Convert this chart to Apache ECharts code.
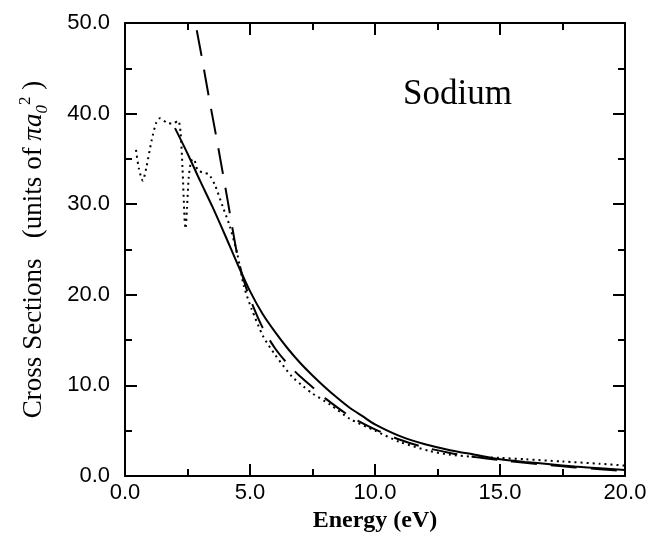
<!DOCTYPE html>
<html>
<head>
<meta charset="utf-8">
<title>Sodium cross sections</title>
<script src="https://cdn.jsdelivr.net/npm/echarts@6/dist/echarts.min.js"></script>
<style>
  html, body { margin: 0; padding: 0; background: #fff; }
  #chart { width: 652px; height: 540px; }
</style>
</head>
<body>
<div id="chart"></div>
<script>
// solid curve
const solidE = [2.0, 2.5, 3.0, 3.5, 4.0, 4.5, 5.0, 5.5, 6.0, 6.5, 7.0, 7.5, 8.0, 8.5, 9.0, 9.5, 10.0, 11.0, 12.0, 13.0, 14.0, 15.0, 16.0, 17.0, 18.0, 19.0, 20.0]
const solidS = [38.4, 35.6, 32.6, 29.7, 26.6, 23.4, 20.4, 17.9, 15.9, 14.1, 12.5, 11.1, 9.8, 8.6, 7.5, 6.6, 5.7, 4.4, 3.5, 2.85, 2.35, 1.85, 1.55, 1.3, 1.05, 0.85, 0.66]

// long dashed curve
const dashE = [2.87, 3.1, 3.35, 3.6, 3.85, 4.1, 4.3, 4.5, 4.75, 5.0, 5.5, 6.0, 6.5, 7.0, 7.5, 8.0, 9.0, 10.0, 11.0, 12.0, 13.0, 14.0, 15.0, 16.0, 17.0, 18.0, 19.0, 20.0]
const dashS = [49.2, 45.8, 41.9, 38.2, 34.4, 30.5, 27.3, 24.3, 21.6, 19.6, 16.4, 14.1, 12.4, 11.0, 9.8, 8.6, 6.6, 5.15, 4.0, 3.15, 2.55, 2.1, 1.75, 1.45, 1.2, 0.95, 0.75, 0.55]

// dotted curve
const dotE = [0.44, 0.55, 0.71, 0.85, 1.07, 1.25, 1.4, 1.67, 1.9, 2.13, 2.22, 2.3, 2.38, 2.42, 2.48, 2.55, 2.65, 2.75, 2.9, 3.1, 3.35, 3.6, 3.9, 4.2, 4.5, 4.75, 5.07, 5.53, 6.0, 6.67, 7.13, 7.5, 8.2, 9.0, 10.0, 11.0, 12.2, 13.0, 13.8, 15.0, 16.0, 17.5, 19.0, 20.0]
const dotS = [36.0, 34.0, 32.6, 34.0, 37.1, 39.0, 39.5, 39.0, 38.9, 39.2, 38.0, 34.0, 28.5, 27.3, 29.5, 33.0, 34.8, 35.0, 33.8, 33.5, 33.3, 32.1, 29.8, 27.5, 24.4, 21.0, 18.4, 15.4, 13.4, 11.0, 9.9, 9.1, 7.9, 6.3, 5.0, 3.75, 2.75, 2.35, 2.15, 2.0, 1.85, 1.6, 1.35, 1.15]

const pairs = (xs, ys) => xs.map((x, i) => [x, ys[i]])

const chart = echarts.init(document.getElementById('chart'))

// each axis gets its own tick objects
const ticks = () => ({ show: true, inside: true, length: 12, lineStyle: { color: '#000', width: 2 } })
const minor = () => ({ show: true, splitNumber: 2, length: 7, lineStyle: { color: '#000', width: 2 } })
const line = () => ({ show: true, onZero: false, lineStyle: { color: '#000', width: 2 } })
const labelFont = { fontFamily: 'Liberation Sans', fontSize: 22, color: '#000' }

const option = {
  animation: false,
  grid: { left: 125, right: 27, top: 23, bottom: 64 },
  xAxis: [
    {
      type: 'value',
      position: 'bottom',
      min: 0,
      max: 20,
      interval: 5,
      axisLine: line(),
      axisTick: ticks(),
      minorTick: minor(),
      splitLine: { show: false },
      axisLabel: { ...labelFont, margin: 6, formatter: (v) => v.toFixed(1) },
      name: 'Energy (eV)',
      nameLocation: 'middle',
      nameGap: 33,
      nameTextStyle: { fontFamily: 'Liberation Serif', fontSize: 24, fontWeight: 'bold', color: '#000' },
    },
    {
      type: 'value',
      position: 'top',
      min: 0,
      max: 20,
      interval: 5,
      axisLine: line(),
      axisTick: ticks(),
      minorTick: minor(),
      splitLine: { show: false },
      axisLabel: { show: false },
    },
  ],
  yAxis: [
    {
      type: 'value',
      position: 'left',
      min: 0,
      max: 50,
      interval: 10,
      axisLine: line(),
      axisTick: ticks(),
      minorTick: minor(),
      splitLine: { show: false },
      axisLabel: { ...labelFont, margin: 15, formatter: (v) => v.toFixed(1) },
      name: '{a|Cross Sections   (units of }{i|πa}{sub|0}{sup|2}{a| )}',
      nameLocation: 'middle',
      nameGap: 74,
      nameTextStyle: {
        rich: {
          a: { fontFamily: 'Liberation Serif', fontSize: 27, lineHeight: 34, color: '#000' },
          i: { fontFamily: 'Liberation Serif', fontStyle: 'italic', fontSize: 27, lineHeight: 34, color: '#000' },
          sub: { fontFamily: 'Liberation Serif', fontStyle: 'italic', fontSize: 17, lineHeight: 17, verticalAlign: 'bottom', color: '#000' },
          sup: { fontFamily: 'Liberation Serif', fontSize: 17, lineHeight: 17, verticalAlign: 'top', color: '#000' },
        },
      },
    },
    {
      type: 'value',
      position: 'right',
      min: 0,
      max: 50,
      interval: 10,
      axisLine: line(),
      axisTick: ticks(),
      minorTick: minor(),
      splitLine: { show: false },
      axisLabel: { show: false },
    },
  ],
  graphic: [
    {
      type: 'text',
      style: {
        text: 'Sodium',
        x: 403,
        y: 95,
        font: '35px "Liberation Serif"',
        fill: '#000',
        verticalAlign: 'middle',
      },
    },
  ],
  series: [
    {
      name: 'solid',
      type: 'line',
      data: pairs(solidE, solidS),
      showSymbol: false,
      smooth: 0.3,
      lineStyle: { color: '#000', width: 2, type: 'solid' },
    },
    {
      name: 'dashed',
      type: 'line',
      data: pairs(dashE, dashS),
      showSymbol: false,
      smooth: 0.3,
      lineStyle: { color: '#000', width: 2, type: [26, 14] },
    },
    {
      name: 'dotted',
      type: 'line',
      data: pairs(dotE, dotS),
      showSymbol: false,
      smooth: 0.25,
      lineStyle: { color: '#000', width: 2, type: [2, 4] },
    },
  ],
}

chart.setOption(option)
</script>
</body>
</html>
